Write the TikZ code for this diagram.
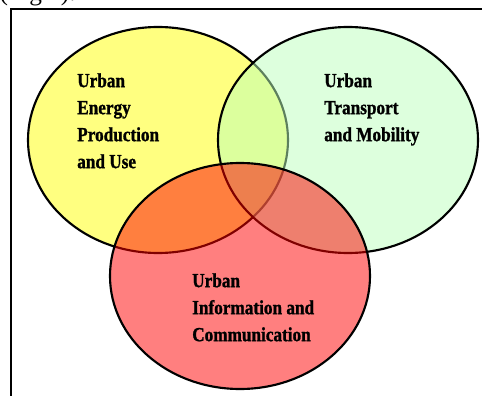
\documentclass[tikz,border=0pt]{standalone}
\usepackage{fontspec}
\setmainfont{Liberation Serif}
\newfontfamily\vennfont{Liberation Serif}[FakeStretch=0.86,FakeBold=1.2]
\usepackage{xcolor}
\definecolor{energyyellow}{RGB}{255,255,128}
\definecolor{transportgreen}{RGB}{187,255,187}
\begin{document}
\begin{tikzpicture}[x=0.75pt,y=-0.75pt,
  venn/.style={draw=black,line width=1.6pt},
  topic/.style={anchor=north west,inner sep=0pt,align=left,
    font=\vennfont\bfseries\fontsize{15}{20.25}\selectfont}]
  \useasboundingbox (0,0) rectangle (482,396);
  \clip (0,0) rectangle (482,396);
  \node[anchor=base east,inner sep=0pt,font=\fontsize{19}{19}\selectfont] (caption) at (76,0.5) {(Fig 2).};
  \draw[line width=1.5pt] (11,396) -- (11,8.5) -- (482,8.5);
  \foreach \cx/\cy/\col/\op in {158/140/energyyellow/1, 348/140/transportgreen/0.5, 240/276/red/0.5}{
    \draw[venn,fill=\col,fill opacity=\op] (\cx,\cy) ellipse [x radius=130, y radius=113];}
  \node[topic] (energy) at (77,73) {Urban\\Energy\\Production\\and Use};
  \node[topic] (transport) at (324,73) {Urban\\Transport\\and Mobility};
  \node[topic] (info) at (192,273) {Urban\\Information and\\Communication};
\end{tikzpicture}
\end{document}
